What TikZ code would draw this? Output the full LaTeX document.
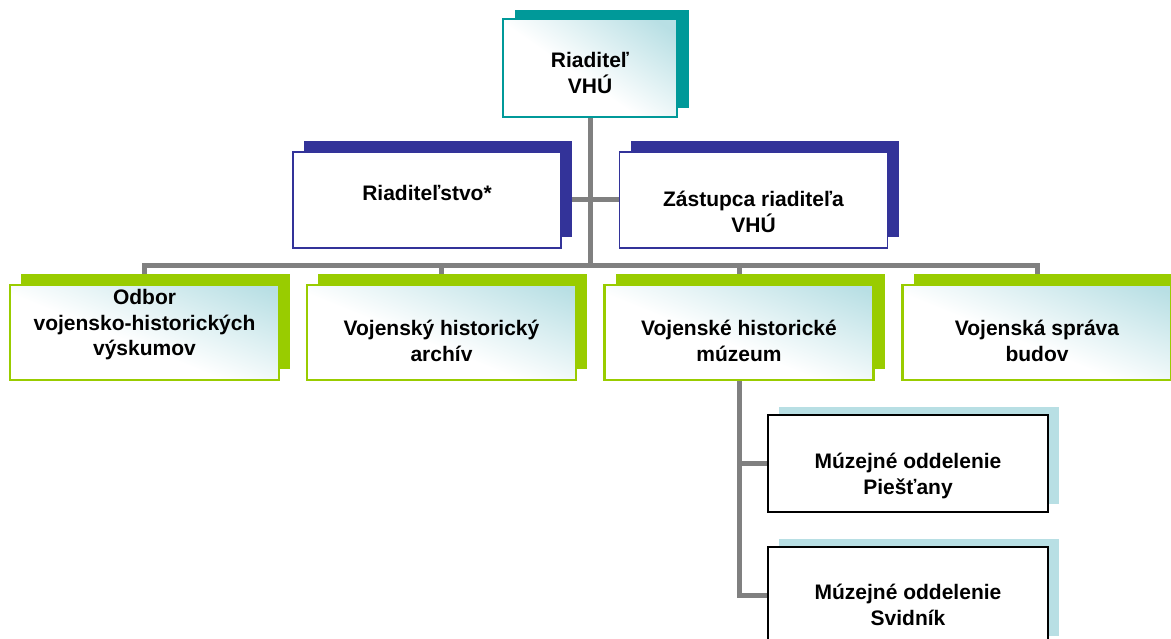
\documentclass[tikz,border=0pt]{standalone}
\usepackage{fontspec}
\setmainfont{Liberation Sans}
\usetikzlibrary{shadows,calc}
\pgfdeclarelayer{bg}
\pgfsetlayers{bg,main}
\definecolor{cteal}{HTML}{009999}
\definecolor{cnavy}{HTML}{333399}
\definecolor{cgreen}{HTML}{99CC00}
\definecolor{clight}{HTML}{B8DFE4}
\definecolor{cgray}{HTML}{808080}
\pgfdeclareverticalshading{boxshade}{100bp}{color(0bp)=(white); color(45bp)=(white); color(80bp)=(clight); color(100bp)=(clight)}
\begin{document}
\begin{tikzpicture}[x=1pt,y=-1pt,
  box/.style={rectangle, inner sep=0pt},
  grad/.style={shade, shading=boxshade, shading angle=#1},
  grad/.default=-25,
  toptype/.style={box, minimum width=174pt, minimum height=98pt, draw=cteal, line width=2pt, grad=-35,
     general shadow={fill=cteal, shadow xshift=12pt, shadow yshift=9pt}},
  secondtype/.style={box, minimum width=268pt, minimum height=96pt, draw=cnavy, line width=1.6pt, fill=white,
     general shadow={fill=cnavy, shadow xshift=11pt, shadow yshift=11pt}},
  thirdtype/.style={box, minimum width=269pt, minimum height=95pt, draw=cgreen, line width=2.4pt, grad=-22,
     general shadow={fill=cgreen, shadow xshift=11pt, shadow yshift=11pt}},
  fourthtype/.style={box, minimum width=280pt, minimum height=97pt, draw=black, line width=1.6pt, fill=white,
     general shadow={fill=clight, shadow xshift=11pt, shadow yshift=8pt}},
  txt/.style={align=center, font=\fontsize{21}{25.5}\selectfont\bfseries, inner sep=0pt},
  conn/.style={draw=cgray, line width=5pt}
]
\useasboundingbox (0,0) rectangle (1171,639);

\node[toptype] (top) at (590,68) {};
\node[txt] (ttop) at (590,73) {Riaditeľ\\VHÚ};

\node[secondtype] (r2a) at (427,200) {};
\node[txt] (tr2a) at (427,193) {Riaditeľstvo*};
\node[secondtype] (r2b) at (753.5,200) {};
\node[txt] (tr2b) at (753.5,212) {Zástupca riaditeľa\\VHÚ};

\node[thirdtype] (r3a) at (144.5,332.5) {};
\node[txt] (tr3a) at (144.5,325) {Odbor\\vojensko-historických\\výskumov};
\node[thirdtype] (r3b) at (441.5,332.5) {};
\node[txt] (tr3b) at (441.5,341) {Vojenský historický\\archív};
\node[thirdtype] (r3c) at (739,332.5) {};
\node[txt] (tr3c) at (739,341) {Vojenské historické\\múzeum};
\node[thirdtype] (r3d) at (1037,332.5) {};
\node[txt] (tr3d) at (1037,341) {Vojenská správa\\budov};

\node[fourthtype] (r4a) at (908,463.5) {};
\node[txt] (tr4a) at (908,476) {Múzejné oddelenie\\Piešťany};
\node[fourthtype] (r4b) at (908,595.5) {};
\node[txt] (tr4b) at (908,605) {Múzejné oddelenie\\Svidník};

\coordinate (bus) at (590,266);

\begin{pgfonlayer}{bg}
  \draw[conn] (top.south) -- (bus);
  \draw[conn] (r2a.east) -- (r2b.west);
  \draw[conn] (r3a.north) |- (bus) -| (r3d.north);
  \draw[conn] (r3b.north) -- (r3b.north |- bus);
  \draw[conn] (r3c.north) -- (r3c.north |- bus);
  \draw[conn] (r3c.south) |- (r4b.west);
  \draw[conn] (r4a.west) -- (r4a.west -| r3c.south);
\end{pgfonlayer}
\end{tikzpicture}
\end{document}
